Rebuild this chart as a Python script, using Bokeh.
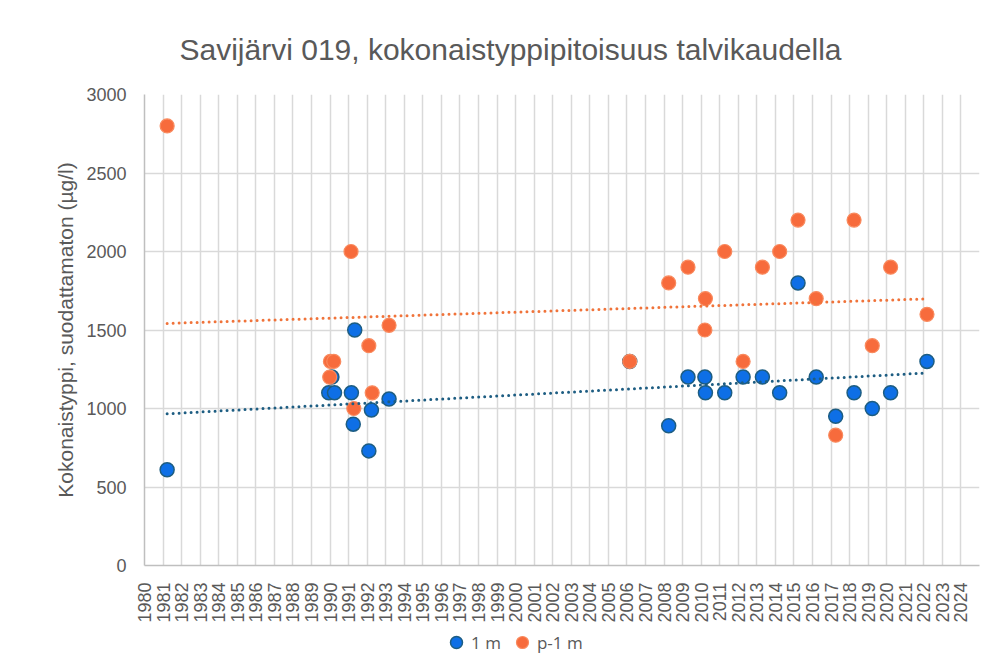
import numpy as np
from bokeh.plotting import figure
from bokeh.layouts import column
from bokeh.models import Range1d, FixedTicker, Legend, LegendItem, ColumnDataSource, BasicTickFormatter
from bokeh.embed import file_html
from bokeh.resources import INLINE

# Data (fractional year of sampling date, total nitrogen µg/l)
years_1m = [1981.22, 1989.93, 1990.10, 1990.24, 1991.15, 1991.25, 1991.33, 1992.09, 1992.23, 1993.18,
            2006.15, 2008.25, 2009.29, 2010.20, 2010.23, 2011.27, 2012.26, 2013.30, 2014.23, 2015.22,
            2016.20, 2017.25, 2018.24, 2019.22, 2020.21, 2022.17]
vals_1m = [610, 1100, 1200, 1100, 1100, 900, 1500, 730, 990, 1060,
           1300, 890, 1200, 1200, 1100, 1100, 1200, 1200, 1100, 1800,
           1200, 950, 1100, 1000, 1100, 1300]

years_p1m = [1981.22, 1989.98, 1990.02, 1990.20, 1991.13, 1991.28, 1992.09, 1992.27, 1993.18,
             2006.15, 2008.25, 2009.29, 2010.20, 2010.23, 2011.27, 2012.26, 2013.30, 2014.23, 2015.22,
             2016.20, 2017.25, 2018.24, 2019.22, 2020.21, 2022.17]
vals_p1m = [2800, 1200, 1300, 1300, 2000, 1000, 1400, 1100, 1530,
            1300, 1800, 1900, 1500, 1700, 2000, 1300, 1900, 2000, 2200,
            1700, 830, 2200, 1400, 1900, 1600]

year_ticks = list(range(1980, 2025))
y_ticks = [0, 500, 1000, 1500, 2000, 2500, 3000]

title_text = "Savijärvi 019, kokonaistyppipitoisuus talvikaudella"
y_label = "Kokonaistyppi, suodattamaton (µg/l)"
series_names = ["1 m", "p-1 m"]

BLUE = "#0E6FE6"
BLUE_LINE = "#1D5D82"
ORANGE = "#F76B3C"
ORANGE_EDGE = "#F98A5E"
ORANGE_TREND = "#F0733A"
GRID = "#D9D9D9"
TEXT = "#595959"

W = 984

p = figure(width=W, height=625, output_backend="svg", toolbar_location=None,
           x_range=Range1d(1980, 2025), y_range=Range1d(0, 3000),
           min_border_left=144, min_border_right=5, min_border_top=94, min_border_bottom=60)

p.title.text = title_text
p.title.align = "left"
p.title.offset = 35
p.title.text_font = "Liberation Sans"
p.title.text_font_size = "30px"
p.title.text_font_style = "normal"
p.title.text_color = TEXT
p.title.standoff = 58

p.outline_line_color = None

# axes
p.xaxis.ticker = FixedTicker(ticks=year_ticks)
p.xaxis.formatter = BasicTickFormatter(use_scientific=False)
p.xaxis.major_label_orientation = np.pi / 2
p.xaxis.major_label_text_font = "Liberation Sans"
p.xaxis.major_label_text_font_size = "18px"
p.xaxis.major_label_text_color = TEXT
p.xaxis.major_label_standoff = 11
p.xaxis.major_tick_line_color = None
p.xaxis.minor_tick_line_color = None
p.xaxis.axis_line_color = "#BFBFBF"
p.xaxis.axis_line_width = 1.5

p.yaxis.ticker = FixedTicker(ticks=y_ticks)
p.yaxis.major_label_text_font = "Liberation Sans"
p.yaxis.major_label_text_font_size = "18px"
p.yaxis.major_label_text_color = TEXT
p.yaxis.major_label_standoff = 12
p.yaxis.major_tick_line_color = None
p.yaxis.minor_tick_line_color = None
p.yaxis.axis_line_color = "#BFBFBF"
p.yaxis.axis_line_width = 1.5
p.yaxis.axis_label = y_label
p.yaxis.axis_label_text_font = "Liberation Sans"
p.yaxis.axis_label_text_font_size = "21px"
p.yaxis.axis_label_text_font_style = "normal"
p.yaxis.axis_label_text_color = TEXT
p.yaxis.axis_label_standoff = 6

p.xgrid.ticker = FixedTicker(ticks=year_ticks)
p.ygrid.ticker = FixedTicker(ticks=y_ticks)
p.xgrid.grid_line_color = GRID
p.ygrid.grid_line_color = GRID
p.xgrid.grid_line_width = 1.5
p.ygrid.grid_line_width = 1.5

src1 = ColumnDataSource(dict(x=years_1m, y=vals_1m))
src2 = ColumnDataSource(dict(x=years_p1m, y=vals_p1m))

p.scatter("x", "y", source=src1, size=14, fill_color=BLUE, line_color=BLUE_LINE, line_width=1.5)
p.scatter("x", "y", source=src2, size=14, fill_color=ORANGE, line_color=ORANGE_EDGE, line_width=1.2)

# linear trendlines
for xs, ys, col in [(years_1m, vals_1m, BLUE_LINE), (years_p1m, vals_p1m, ORANGE_TREND)]:
    k, b = np.polyfit(np.array(xs), np.array(ys), 1)
    x0, x1 = min(xs), max(xs)
    p.line([x0, x1], [k * x0 + b, k * x1 + b], line_color=col, line_width=3,
           line_dash="0 6", line_cap="round")

# legend strip below the chart (its frame is aligned with the chart frame)
lf = figure(width=W, height=34, output_backend="svg", toolbar_location=None,
            x_range=Range1d(0, 1), y_range=Range1d(0, 1), min_border=0)
lf.axis.visible = False
lf.grid.visible = False
lf.outline_line_color = None
e1 = lf.scatter(x=[-10], y=[-10], fill_color=BLUE, line_color=BLUE_LINE, line_width=1.5)
e2 = lf.scatter(x=[-10], y=[-10], fill_color=ORANGE, line_color=ORANGE_EDGE, line_width=1.2)
legend = Legend(items=[LegendItem(label=series_names[0], renderers=[e1]),
                       LegendItem(label=series_names[1], renderers=[e2])],
                orientation="horizontal", location=(297, 0))
legend.label_text_font = "Open Sans"
legend.label_text_font_size = "17px"
legend.label_text_color = TEXT
legend.border_line_color = None
legend.background_fill_alpha = 0
legend.glyph_width = 30
legend.glyph_height = 34
legend.label_standoff = 0
legend.spacing = 6
legend.padding = 0
legend.margin = 0
lf.add_layout(legend, "center")

layout = column(p, lf, spacing=0)
open("out.html", "w").write(file_html(layout, INLINE))
